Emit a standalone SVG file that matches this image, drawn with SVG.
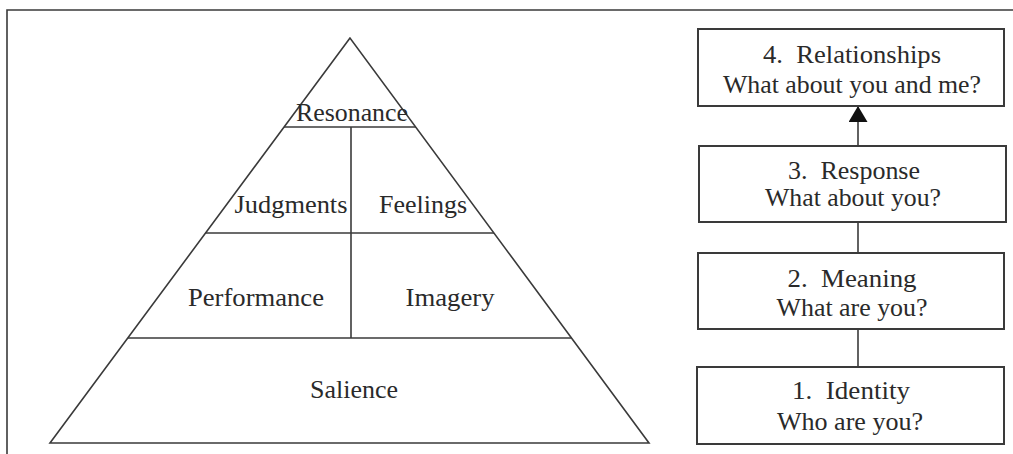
<svg xmlns="http://www.w3.org/2000/svg" width="1013" height="454" viewBox="0 0 1013 454">
<style>
.ln{stroke:#3a3a3a;stroke-width:1.6;fill:none}
.box{stroke:#3a3a3a;stroke-width:2;fill:#fff}
.t{font-family:'Liberation Serif','DejaVu Serif',serif;font-size:25px;fill:#2a2a2a;text-anchor:middle}
</style>
<defs>
<marker id="ah" markerWidth="16" markerHeight="19" refX="15" refY="9.5" orient="auto" markerUnits="userSpaceOnUse" viewBox="0 0 16 19">
<path d="M0,0 L16,9.5 L0,19 z" fill="#111"/>
</marker>
</defs>
<rect width="1013" height="454" fill="#fff"/>
<g id="frame">
<path class="ln" d="M7,454 L7,10 L1013,10" stroke="#555"/>
</g>
<g id="pyramid">
<polygon class="ln" points="350,38 50,443 649,443"/>
<line class="ln" x1="284" y1="127" x2="416" y2="127"/>
<line class="ln" x1="205.5" y1="233" x2="494" y2="233"/>
<line class="ln" x1="128" y1="338" x2="571.5" y2="338"/>
<line class="ln" x1="351" y1="127" x2="351" y2="338"/>
</g>
<g id="resonance"><text class="t" x="352" y="121" textLength="112" lengthAdjust="spacingAndGlyphs">Resonance</text></g>
<g id="judgments"><text class="t" x="291" y="213" textLength="113" lengthAdjust="spacingAndGlyphs">Judgments</text></g>
<g id="feelings"><text class="t" x="423" y="213" textLength="88" lengthAdjust="spacingAndGlyphs">Feelings</text></g>
<g id="performance"><text class="t" x="256" y="306" textLength="136" lengthAdjust="spacingAndGlyphs">Performance</text></g>
<g id="imagery"><text class="t" x="450" y="306" textLength="89" lengthAdjust="spacingAndGlyphs">Imagery</text></g>
<g id="salience"><text class="t" x="354" y="398" textLength="88" lengthAdjust="spacingAndGlyphs">Salience</text></g>
<g id="connectors">
<line class="ln" x1="858" y1="146" x2="858" y2="107" marker-end="url(#ah)" stroke-width="2"/>
<line class="ln" x1="858" y1="222" x2="858" y2="253" stroke-width="2"/>
<line class="ln" x1="858" y1="329" x2="858" y2="367" stroke-width="2"/>
</g>
<g id="relationships">
<rect class="box" x="698" y="29" width="306" height="77"/>
<text class="t" x="852" y="63" xml:space="preserve" textLength="178" lengthAdjust="spacingAndGlyphs">4.  Relationships</text>
<text class="t" x="852" y="93" textLength="258" lengthAdjust="spacingAndGlyphs">What about you and me?</text>
</g>
<g id="response">
<rect class="box" x="699" y="146" width="307" height="76"/>
<text class="t" x="854" y="179" xml:space="preserve" textLength="132" lengthAdjust="spacingAndGlyphs">3.  Response</text>
<text class="t" x="853" y="206" textLength="176" lengthAdjust="spacingAndGlyphs">What about you?</text>
</g>
<g id="meaning">
<rect class="box" x="698" y="253" width="306" height="76"/>
<text class="t" x="852" y="287" xml:space="preserve" textLength="129" lengthAdjust="spacingAndGlyphs">2.  Meaning</text>
<text class="t" x="852" y="316" textLength="151" lengthAdjust="spacingAndGlyphs">What are you?</text>
</g>
<g id="identity">
<rect class="box" x="697" y="367" width="307" height="77"/>
<text class="t" x="851" y="399" xml:space="preserve" textLength="118" lengthAdjust="spacingAndGlyphs">1.  Identity</text>
<text class="t" x="850" y="430" textLength="146" lengthAdjust="spacingAndGlyphs">Who are you?</text>
</g>
</svg>
